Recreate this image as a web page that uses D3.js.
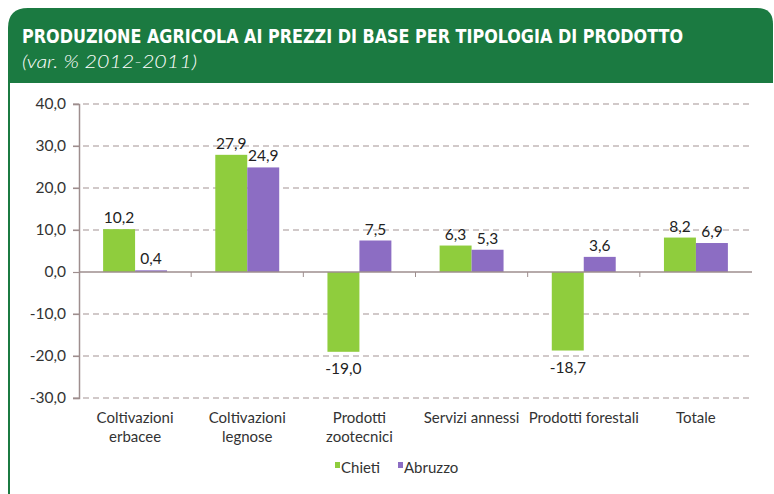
<!DOCTYPE html>
<html>
<head>
<meta charset="utf-8">
<script src="https://cdn.jsdelivr.net/npm/d3@7"></script>
<style>
  body { margin: 0; background: #fff; }
  svg { display: block; }
</style>
</head>
<body>
<div id="chart"></div>
<script>
// chart data
var categories = [
	['Coltivazioni', 'erbacee'],
	['Coltivazioni', 'legnose'],
	['Prodotti', 'zootecnici'],
	['Servizi annessi'],
	['Prodotti forestali'],
	['Totale']
];
var chieti = [10.2, 27.9, -19.0, 6.3, -18.7, 8.2];
var abruzzo = [0.4, 24.9, 7.5, 5.3, 3.6, 6.9];
var seriesNames = ['Chieti', 'Abruzzo'];
var yTicks = [40, 30, 20, 10, 0, -10, -20, -30];

var colors = {
	'Chieti': '#8fcd3d',
	'Abruzzo': '#8c6dc3',
};

var width = 774;
var height = 494;
var margin = { top: 104, bottom: 96, left: 79, right: 22 };
var headerGreen = '#1b7a41';
var font = 'Lato, "DejaVu Sans", sans-serif';

var svg = d3.select('#chart').append('svg')
	.attr('width', width)
	.attr('height', height);

// header box with rounded top corners (right side runs to the edge)
var r = 20;
var hx = 8, hy = 8, hr = width - 1, hb = 83;
svg.append('path')
	.attr('d', 'M' + hx + ',' + hb + ' L' + hx + ',' + (hy + r) + ' Q' + hx + ',' + hy + ' ' + (hx + r) + ',' + hy +
		' L' + (hr - 16) + ',' + hy + ' Q' + hr + ',' + hy + ' ' + hr + ',' + (hy + 16) + ' L' + hr + ',' + hb + ' Z')
	.attr('fill', headerGreen);
svg.append('line')
	.attr('x1', 9).attr('x2', 9).attr('y1', hb).attr('y2', height)
	.attr('stroke', headerGreen).attr('stroke-width', 2);

svg.append('text')
	.attr('x', 22).attr('y', 43)
	.attr('fill', '#fff')
	.attr('font-family', '"Liberation Sans Narrow", "DejaVu Sans Condensed", sans-serif')
	.attr('font-weight', 'bold')
	.attr('font-size', 20)
	.attr('textLength', 661)
	.attr('lengthAdjust', 'spacingAndGlyphs')
	.text('PRODUZIONE AGRICOLA AI PREZZI DI BASE PER TIPOLOGIA DI PRODOTTO');
svg.append('text')
	.attr('x', 22).attr('y', 68)
	.attr('fill', '#fff')
	.attr('font-family', 'Lato, sans-serif')
	.attr('font-style', 'italic')
	.attr('font-weight', 300)
	.attr('font-size', 18)
	.attr('textLength', 175)
	.attr('lengthAdjust', 'spacingAndGlyphs')
	.text('(var. % 2012-2011)');

// scales
var scaleX = d3.scaleBand()
	.domain(d3.range(categories.length))
	.range([margin.left, width - margin.right])
	.paddingInner(0.43)
	.paddingOuter(0.215);
var scaleSeries = d3.scaleBand()
	.domain(seriesNames)
	.range([0, scaleX.bandwidth()]);
var scaleY = d3.scaleLinear()
	.domain([-30, 40])
	.range([height - margin.bottom, margin.top]);

var fmt = function(v) { return d3.format('.1f')(v).replace('.', ',').replace('−', '-'); };

// gridlines
svg.append('g')
	.selectAll('line')
	.data(yTicks.filter(function(d) { return d !== 0; }))
	.enter().append('line')
	.attr('x1', margin.left - 6)
	.attr('x2', width - margin.right)
	.attr('y1', function(d) { return scaleY(d); })
	.attr('y2', function(d) { return scaleY(d); })
	.attr('stroke', '#a39494')
	.attr('stroke-width', 1.2)
	.attr('stroke-dasharray', '6,4');

// y axis
var yAxisCall = d3.axisLeft(scaleY)
	.tickValues(yTicks)
	.tickSize(6)
	.tickPadding(7)
	.tickFormat(fmt);
var yAxis = svg.append('g')
	.attr('transform', 'translate(' + margin.left + ',0)')
	.call(yAxisCall);
yAxis.select('.domain').attr('stroke', '#9e8e8e').attr('stroke-width', 1.5);
yAxis.selectAll('.tick line').attr('stroke', '#9e8e8e').attr('stroke-width', 1.2);
yAxis.selectAll('.tick text')
	.attr('fill', '#333')
	.attr('font-family', font)
	.attr('font-size', 15.5);

// bars
var data = [];
categories.forEach(function(c, i) {
	data.push({ cat: i, series: 'Chieti', value: chieti[i] });
	data.push({ cat: i, series: 'Abruzzo', value: abruzzo[i] });
});

svg.append('g')
	.selectAll('rect')
	.data(data)
	.enter().append('rect')
	.attr('x', function(d) { return scaleX(d.cat) + scaleSeries(d.series); })
	.attr('y', function(d) { return scaleY(Math.max(0, d.value)); })
	.attr('width', scaleSeries.bandwidth())
	.attr('height', function(d) { return Math.abs(scaleY(d.value) - scaleY(0)); })
	.attr('fill', function(d) { return colors[d.series]; });

// value labels
svg.append('g')
	.selectAll('text')
	.data(data)
	.enter().append('text')
	.attr('x', function(d) { return scaleX(d.cat) + scaleSeries(d.series) + scaleSeries.bandwidth() / 2; })
	.attr('y', function(d) { return d.value >= 0 ? scaleY(d.value) - 6 : scaleY(d.value) + 22; })
	.attr('text-anchor', 'middle')
	.attr('fill', '#222')
	.attr('font-family', font)
	.attr('font-size', 15.5)
	.text(function(d) { return fmt(d.value); });

// x axis (zero line with ticks between categories)
var xAxis = svg.append('g');
xAxis.append('line')
	.attr('x1', margin.left).attr('x2', width - margin.right)
	.attr('y1', scaleY(0)).attr('y2', scaleY(0))
	.attr('stroke', '#9e8e8e').attr('stroke-width', 1.5);
xAxis.selectAll('.sep')
	.data(d3.range(1, categories.length))
	.enter().append('line')
	.attr('x1', function(d) { return scaleX(d) - scaleX.step() * scaleX.paddingInner() / 2; })
	.attr('x2', function(d) { return scaleX(d) - scaleX.step() * scaleX.paddingInner() / 2; })
	.attr('y1', scaleY(0)).attr('y2', scaleY(0) + 5)
	.attr('stroke', '#9e8e8e').attr('stroke-width', 1);

// category labels
var catLabels = svg.append('g')
	.selectAll('text')
	.data(categories)
	.enter().append('text')
	.attr('x', function(d, i) { return scaleX(i) + scaleX.bandwidth() / 2; })
	.attr('y', 423)
	.attr('text-anchor', 'middle')
	.attr('fill', '#333')
	.attr('font-family', font)
	.attr('font-size', 15);
catLabels.selectAll('tspan')
	.data(function(d) { return d; })
	.enter().append('tspan')
	.attr('x', function() { return d3.select(this.parentNode).attr('x'); })
	.attr('dy', function(d, i) { return i === 0 ? 0 : 19; })
	.text(function(d) { return d; });

// legend
var legend = svg.append('g');
var legendX = [335, 398];
seriesNames.forEach(function(name, i) {
	legend.append('rect')
		.attr('x', legendX[i]).attr('y', 462)
		.attr('width', 5).attr('height', 6)
		.attr('fill', colors[name]);
	legend.append('text')
		.attr('x', legendX[i] + 6).attr('y', 473)
		.attr('fill', '#333')
		.attr('font-family', font)
		.attr('font-size', 15)
		.text(name);
});
</script>
</body>
</html>
